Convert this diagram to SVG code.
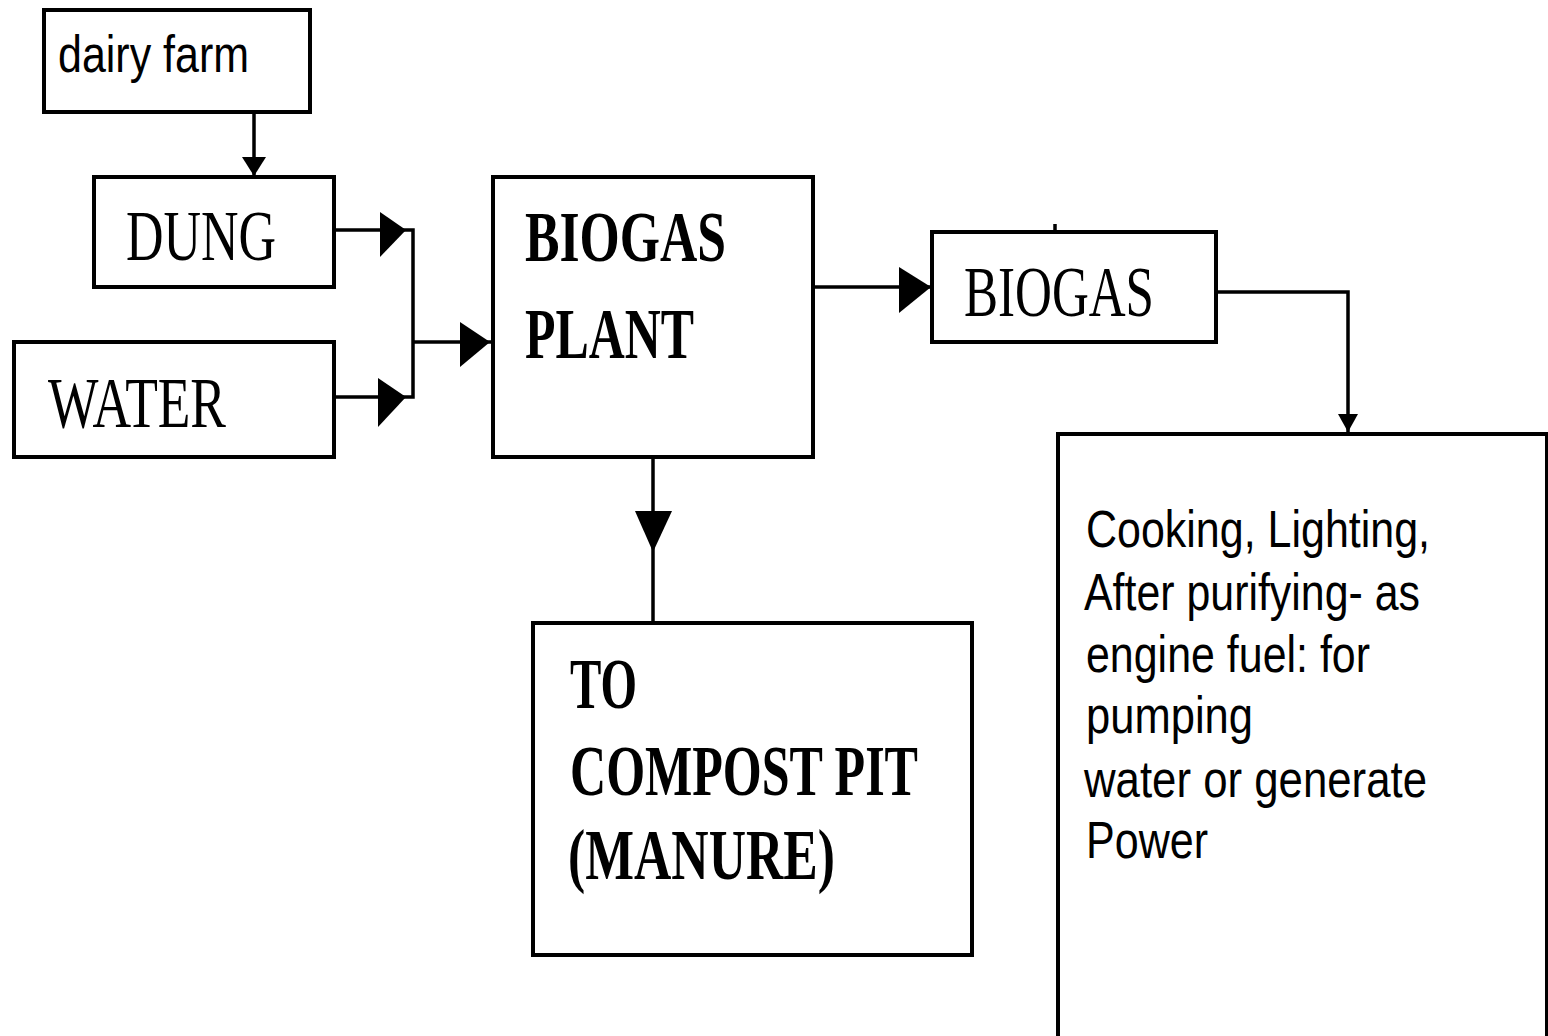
<svg xmlns="http://www.w3.org/2000/svg" width="1548" height="1036" viewBox="0 0 1548 1036">
<style>
.box{fill:#fff;stroke:#000;stroke-width:4}
.ln{fill:none;stroke:#000;stroke-width:3.5}
.ah{fill:#000;stroke:none}
.serif{font-family:"Liberation Serif","Times New Roman",serif;font-size:72px;fill:#000}
.bold{font-weight:bold}
.sans{font-family:"Liberation Sans",Arial,sans-serif;font-size:52px;fill:#000}
</style>
<rect width="1548" height="1036" fill="#fff"/>
<g id="connectors">
<polyline class="ln" points="254,112 254,176"/>
<polygon class="ah" points="242,157 266,157 254,176"/>
<polyline class="ln" points="334,230 413,230 413,397 334,397"/>
<polygon class="ah" points="380,212 406,230 380,257"/>
<polygon class="ah" points="378,378 406,397 378,427"/>
<polyline class="ln" points="413,342 492,342"/>
<polygon class="ah" points="460,322 490,342 460,367"/>
<polyline class="ln" points="813,287 931,287"/>
<polygon class="ah" points="899,267 931,287 899,313"/>
<polyline class="ln" points="653,457 653,623"/>
<polygon class="ah" points="635,511 672,511 653,552"/>
<polyline class="ln" points="1216,292 1348,292 1348,434"/>
<polygon class="ah" points="1338,414 1358,414 1348,432"/>
<line class="ln" x1="1055" y1="224" x2="1055" y2="232" stroke-width="2"/>
</g>
<g id="dairy-farm">
<rect class="box" x="44" y="10" width="266" height="102"/>
<text class="sans" x="58" y="72" font-size="58" textLength="191" lengthAdjust="spacingAndGlyphs">dairy farm</text>
</g>
<g id="dung">
<rect class="box" x="94" y="177" width="240" height="110"/>
<text class="serif" x="126" y="260" textLength="150" lengthAdjust="spacingAndGlyphs">DUNG</text>
</g>
<g id="water">
<rect class="box" x="14" y="342" width="320" height="115"/>
<text class="serif" x="48" y="427" textLength="178" lengthAdjust="spacingAndGlyphs">WATER</text>
</g>
<g id="biogas-plant">
<rect class="box" x="493" y="177" width="320" height="280"/>
<text class="serif bold" x="525" y="261" textLength="201" lengthAdjust="spacingAndGlyphs">BIOGAS</text>
<text class="serif bold" x="525" y="358" textLength="169" lengthAdjust="spacingAndGlyphs">PLANT</text>
</g>
<g id="biogas">
<rect class="box" x="932" y="232" width="284" height="110"/>
<text class="serif" x="964" y="316" textLength="190" lengthAdjust="spacingAndGlyphs">BIOGAS</text>
</g>
<g id="compost-pit">
<rect class="box" x="533" y="623" width="439" height="332"/>
<text class="serif bold" x="570" y="708" textLength="67" lengthAdjust="spacingAndGlyphs">TO</text>
<text class="serif bold" x="570" y="795" textLength="348" lengthAdjust="spacingAndGlyphs">COMPOST PIT</text>
<text class="serif bold" x="568" y="879" textLength="267" lengthAdjust="spacingAndGlyphs">(MANURE)</text>
</g>
<g id="uses">
<rect class="box" x="1058" y="434" width="489" height="620"/>
<text class="sans" x="1086" y="547" textLength="344" lengthAdjust="spacingAndGlyphs">Cooking, Lighting,</text>
<text class="sans" x="1084" y="610" textLength="336" lengthAdjust="spacingAndGlyphs">After purifying- as</text>
<text class="sans" x="1086" y="672" textLength="284" lengthAdjust="spacingAndGlyphs">engine fuel: for</text>
<text class="sans" x="1086" y="733" textLength="167" lengthAdjust="spacingAndGlyphs">pumping</text>
<text class="sans" x="1084" y="797" textLength="343" lengthAdjust="spacingAndGlyphs">water or generate</text>
<text class="sans" x="1086" y="858" textLength="122" lengthAdjust="spacingAndGlyphs">Power</text>
</g>
</svg>
